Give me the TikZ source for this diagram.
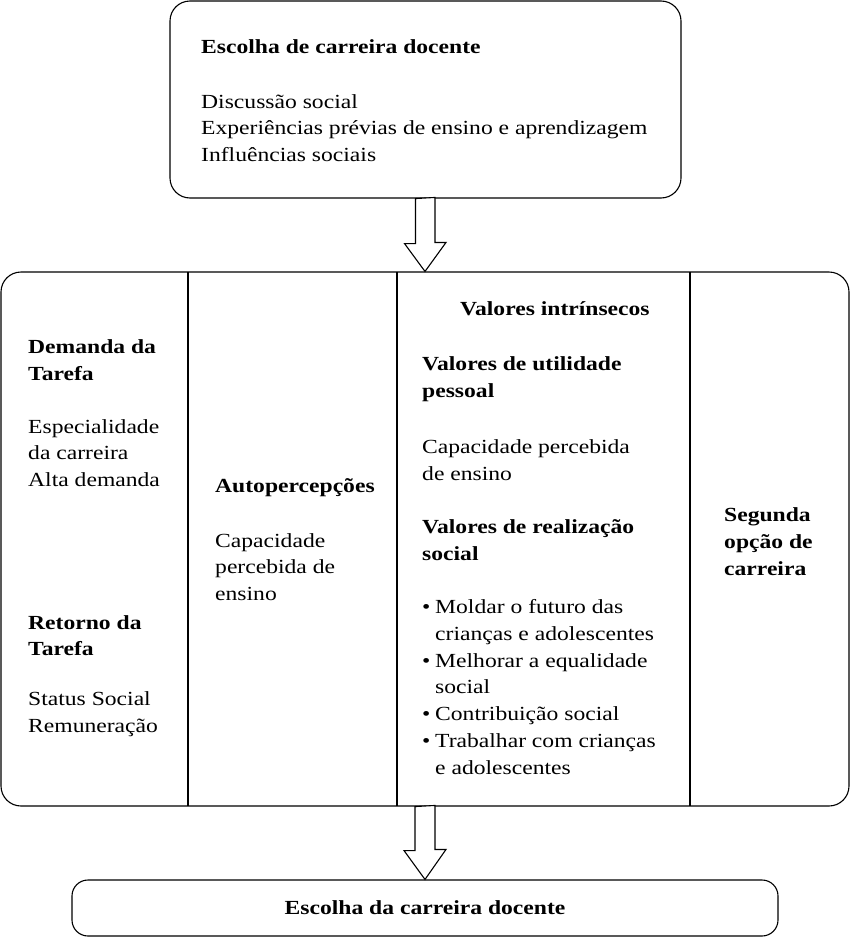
\documentclass[tikz,border=0pt]{standalone}
\usepackage{fontspec}
\setmainfont{Liberation Serif}[FakeStretch=1.18]
\usepackage{tikz}

\tikzset{
	caixa/.style={draw, line width=1.1pt, inner sep=0pt},
	texto/.style={anchor=west, align=left, inner sep=0pt, font=\fontsize{20}{26.7}\selectfont},
	titulo/.style={texto, font=\fontsize{20}{26.7}\selectfont\bfseries},
	seta/.style={draw, line width=1.1pt, fill=white}
}
\newcommand{\marca}{\makebox[13pt][l]{\textbullet}}

\begin{document}
\begin{tikzpicture}[x=1pt, y=-1pt]
		\useasboundingbox (0,0) rectangle (850,937);

		% caixas
		\node[caixa, rounded corners=20pt, minimum width=511pt, minimum height=197pt] (topo) at (425.5, 99.5) {};
		\node[caixa, rounded corners=20pt, minimum width=848pt, minimum height=534pt] (meio) at (425, 539) {};
		\node[caixa, rounded corners=16pt, minimum width=706pt, minimum height=56pt,
			font=\fontsize{20}{26.7}\selectfont\bfseries] (base) at (425, 908) {Escolha da carreira docente};

		% divisorias
		\foreach \x in {188, 397, 690}
			\draw[line width=1.1pt] (\x, 272) -- (\x, 806);

		% setas
		\draw[seta] (topo.south) ++(-10,0) -- ++(0,45) -- ++(-11,0) -- (meio.north)
			-- ++(21,-29) -- ++(-11,0) -- ++(0,-45) -- cycle;
		\draw[seta] (meio.south) ++(-10,0) -- ++(0,44) -- ++(-11,0) -- (base.north)
			-- ++(21,-30) -- ++(-11,0) -- ++(0,-44) -- cycle;

		% topo
		\node[titulo] (t0) at (201, 47) {Escolha de carreira docente};
		\node[texto] (t1) at (201, 128) {Discussão social\\Experiências prévias de ensino e aprendizagem\\Influências sociais};

		% coluna 1
		\node[titulo] (a0) at (28, 360.5) {Demanda da\\Tarefa};
		\node[texto] (a1) at (28, 453) {Especialidade\\da carreira\\Alta demanda};
		\node[titulo] (a2) at (28, 635.5) {Retorno da\\Tarefa};
		\node[texto] (a3) at (28, 714.5) {Status Social\\Remuneração};

		% coluna 2
		\node[titulo] (b0) at (215, 488) {Autopercepções};
		\node[texto] (b1) at (215, 567) {Capacidade\\percebida de\\ensino};

		% coluna 3
		\node[titulo] (c0) at (460, 309) {Valores intrínsecos};
		\node[titulo] (c1) at (422, 379.5) {Valores de utilidade\\pessoal};
		\node[texto] (c2) at (422, 460.5) {Capacidade percebida\\de ensino};
		\node[titulo] (c3) at (422, 540) {Valores de realização\\social};
		\node[texto] (c4) at (422, 687) {\marca Moldar o futuro das\\\hspace*{13pt}crianças e adolescentes\\
			\marca Melhorar a equalidade\\\hspace*{13pt}social\\
			\marca Contribuição social\\
			\marca Trabalhar com crianças\\\hspace*{13pt}e adolescentes};

		% coluna 4
		\node[titulo] (d0) at (724, 541.5) {Segunda\\opção de\\carreira};
	\end{tikzpicture}
\end{document}
